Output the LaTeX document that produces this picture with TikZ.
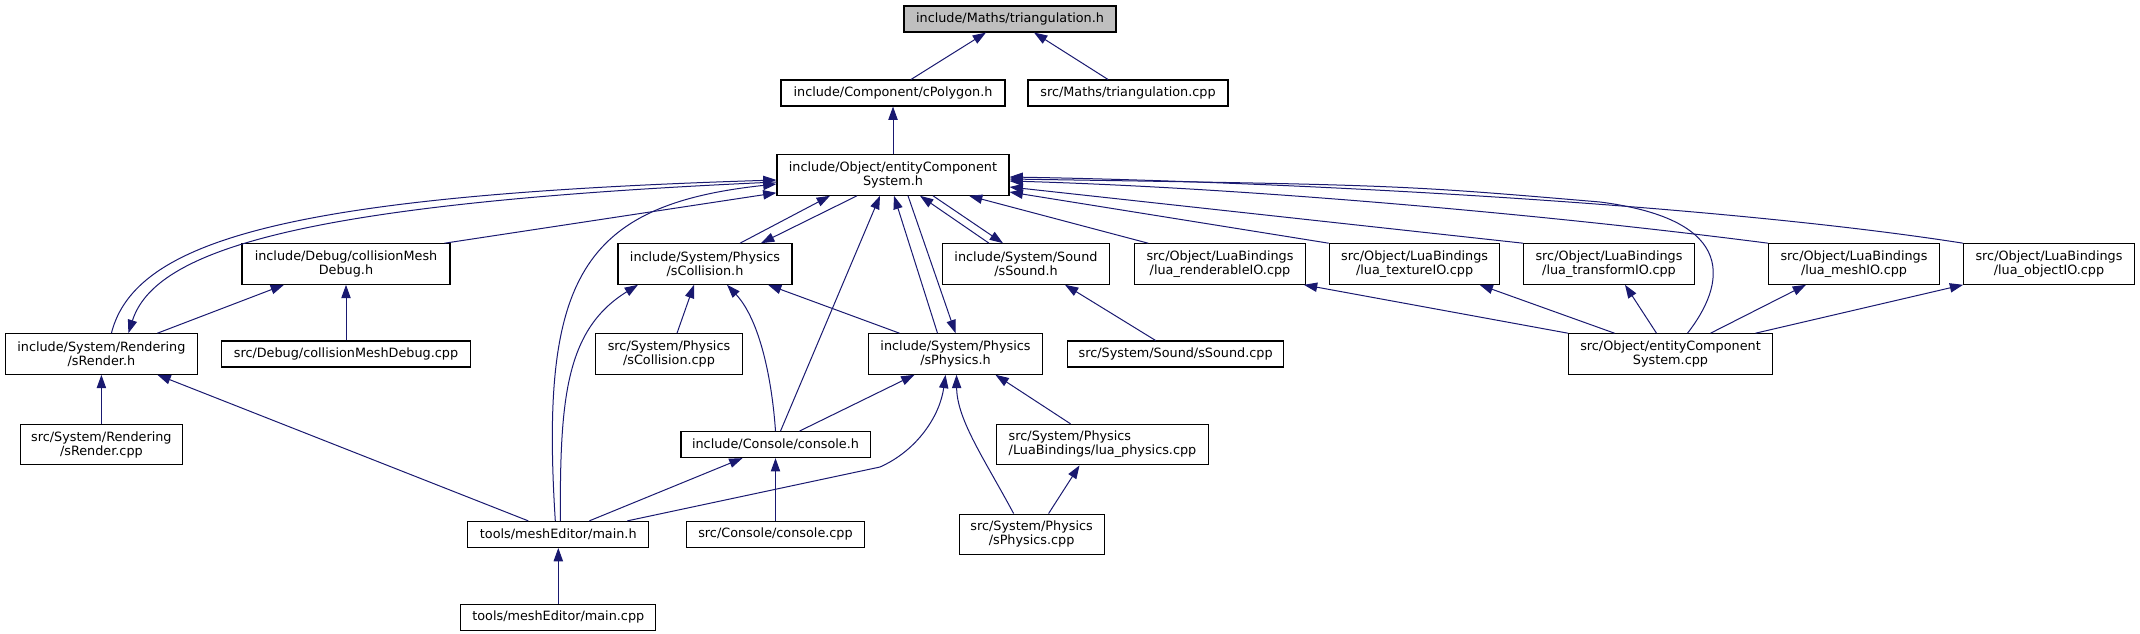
\documentclass[tikz,border=0pt]{standalone}
\usepackage{fontspec}
\setmainfont{DejaVu Sans}
\usepackage{tikz}
\usetikzlibrary{arrows.meta, positioning, calc}
\definecolor{navy1}{RGB}{25, 25, 112}
\definecolor{grey1}{RGB}{191, 191, 191}

\begin{document}
\begin{tikzpicture}[x=0.75pt, y=-0.75pt,
  file/.style={draw=black, line width=0.8pt, fill=white, inner sep=0pt, minimum height=19.5pt, align=center, font=\fontsize{9.6}{10.5}\selectfont},
  file2/.style={file, minimum height=30.4pt},
  dep/.style={navy1, line width=0.75pt, -{Triangle[length=10pt, width=7pt]}}]
  \useasboundingbox (0,0) rectangle (2140,633);

  % files
  \node[file, fill=grey1, minimum width=159pt] (trih) at (1010,19) {include/Maths/triangulation.h};
  \node[file, minimum width=168pt] (cpoly) at (893,93) {include/Component/cPolygon.h};
  \node[file, minimum width=150pt] (tricpp) at (1128,93) {src/Maths/triangulation.cpp};
  \node[file2, minimum width=174pt] (ecsh) at (893,175) {include/Object/entityComponent\\System.h};
  \node[file2, minimum width=156pt] (cmdh) at (346,264) {include/Debug/collisionMesh\\Debug.h};
  \node[file2, minimum width=130.5pt] (scolh) at (705,264) {include/System/Physics\\/sCollision.h};
  \node[file2, minimum width=125.3pt] (ssndh) at (1026,264) {include/System/Sound\\/sSound.h};
  \node[file2, minimum width=128pt] (lrend) at (1220,264) {src/Object/LuaBindings\\/lua\_renderableIO.cpp};
  \node[file2, minimum width=128pt] (ltex) at (1414.6,264) {src/Object/LuaBindings\\/lua\_textureIO.cpp};
  \node[file2, minimum width=128pt] (ltrans) at (1609,264) {src/Object/LuaBindings\\/lua\_transformIO.cpp};
  \node[file2, minimum width=128pt] (lmesh) at (1854,264) {src/Object/LuaBindings\\/lua\_meshIO.cpp};
  \node[file2, minimum width=128pt] (lobj) at (2049,264) {src/Object/LuaBindings\\/lua\_objectIO.cpp};
  \node[file2, minimum width=144pt] (srendh) at (101.4,354) {include/System/Rendering\\/sRender.h};
  \node[file, minimum width=186.5pt] (cmdcpp) at (346,354) {src/Debug/collisionMeshDebug.cpp};
  \node[file2, minimum width=110pt] (scolcpp) at (669,354) {src/System/Physics\\/sCollision.cpp};
  \node[file2, minimum width=130.5pt] (sphyh) at (955.5,354) {include/System/Physics\\/sPhysics.h};
  \node[file, minimum width=162pt] (ssndcpp) at (1175.6,354) {src/System/Sound/sSound.cpp};
  \node[file2, minimum width=153pt] (ecscpp) at (1670.5,354) {src/Object/entityComponent\\System.cpp};
  \node[file2, minimum width=122pt] (srendcpp) at (101.4,444.6) {src/System/Rendering\\/sRender.cpp};
  \node[file, minimum width=141.8pt] (conh) at (775.5,444.6) {include/Console/console.h};
  \node[file2, minimum width=159pt, align=left] (lphys) at (1102.5,444.6) {src/System/Physics\\/LuaBindings/lua\_physics.cpp};
  \node[file, minimum width=135.8pt] (mainh) at (558.3,534.4) {tools/meshEditor/main.h};
  \node[file, minimum width=133.5pt] (concpp) at (775.5,534.4) {src/Console/console.cpp};
  \node[file2, minimum width=108.8pt] (sphycpp) at (1031.6,534.3) {src/System/Physics\\/sPhysics.cpp};
  \node[file, minimum width=146.3pt] (maincpp) at (558.3,617.4) {tools/meshEditor/main.cpp};

  % includes
  \draw[dep] ([shift={(18,0)}]cpoly.north) -- ([shift={(-24,0)}]trih.south);
  \draw[dep] ([shift={(-20,0)}]tricpp.north) -- ([shift={(24,0)}]trih.south);
  \draw[dep] (ecsh.north) -- (cpoly.south);
  \draw[dep] ([shift={(10,0)}]srendh.north) .. controls (135,240) and (290,195) .. ([shift={(0,5)}]ecsh.west);
  \draw[dep] ([shift={(0,7)}]ecsh.west) .. controls (300,203) and (155,250) .. ([shift={(27,0)}]srendh.north);
  \draw[dep] ([shift={(-6,0)}]cmdh.north east) -- ([shift={(0,-3)}]ecsh.south west);
  \draw[dep] ([shift={(56,0)}]srendh.north) -- ([shift={(-62,0)}]cmdh.south);
  \draw[dep] (cmdcpp.north) -- (cmdh.south);
  \draw[dep] (srendcpp.north) -- (srendh.south);
  \draw[dep] ([shift={(-30,0)}]mainh.north) -- ([shift={(56,0)}]srendh.south);
  \draw[dep] (maincpp.north) -- (mainh.south);
  \draw[dep] ([shift={(-3,0)}]mainh.north) .. controls (540,280) and (580,205) .. ([shift={(0,9)}]ecsh.west);
  \draw[dep] ([shift={(2,0)}]mainh.north) .. controls (560,400) and (565,330) .. ([shift={(-67,0)}]scolh.south);
  \draw[dep] ([shift={(31,0)}]mainh.north) -- ([shift={(-33,0)}]conh.south);
  \draw[dep] ([shift={(69,0)}]mainh.north) -- (880,467) .. controls (918,450) and (940,415) .. ([shift={(-10,0)}]sphyh.south);
  \draw[dep] (concpp.north) -- (conh.south);
  \draw[dep] ([shift={(24,0)}]conh.north) -- ([shift={(-41,0)}]sphyh.south);
  \draw[dep] (conh.north) .. controls (772,380) and (760,320) .. ([shift={(22,0)}]scolh.south);
  \draw[dep] ([shift={(5,0)}]conh.north) -- ([shift={(-13,0)}]ecsh.south);
  \draw[dep] ([shift={(8,0)}]scolcpp.north) -- ([shift={(-11,0)}]scolh.south);
  \draw[dep] ([shift={(-56,0)}]sphyh.north) -- ([shift={(63,0)}]scolh.south);
  \draw[dep] ([shift={(35,0)}]scolh.north) -- ([shift={(-63,0)}]ecsh.south);
  \draw[dep] ([shift={(-36,0)}]ecsh.south) -- ([shift={(56,0)}]scolh.north);
  \draw[dep] ([shift={(-37,0)}]ssndh.north) -- ([shift={(27,0)}]ecsh.south);
  \draw[dep] ([shift={(40,0)}]ecsh.south) -- ([shift={(-23,0)}]ssndh.north);
  \draw[dep] ([shift={(-20,0)}]ssndcpp.north) -- ([shift={(39,0)}]ssndh.south);
  \draw[dep] ([shift={(-18,0)}]sphyh.north) -- ([shift={(1,0)}]ecsh.south);
  \draw[dep] ([shift={(15,0)}]ecsh.south) -- (sphyh.north);
  \draw[dep] ([shift={(14,0)}]lrend.north west) -- ([shift={(76,0)}]ecsh.south);
  \draw[dep] (ltex.north west) -- ([shift={(0,17)}]ecsh.east);
  \draw[dep] (ltrans.north west) -- ([shift={(0,12)}]ecsh.east);
  \draw[dep] (lmesh.north west) .. controls (1550,215) and (1250,188) .. ([shift={(0,6)}]ecsh.east);
  \draw[dep] (lobj.north west) .. controls (1720,205) and (1300,182) .. ([shift={(0,2)}]ecsh.east);
  \draw[dep] ([shift={(17,0)}]ecscpp.north) .. controls (1725,285) and (1740,220) .. (1600,202) .. controls (1400,185) .. ([shift={(0,4)}]ecsh.east);
  \draw[dep] (ecscpp.north west) -- ([shift={(-2,0)}]lrend.south east);
  \draw[dep] ([shift={(-56,0)}]ecscpp.north) -- ([shift={(65,0)}]ltex.south);
  \draw[dep] ([shift={(-14,0)}]ecscpp.north) -- ([shift={(16,0)}]ltrans.south);
  \draw[dep] ([shift={(40,0)}]ecscpp.north) -- ([shift={(-48,0)}]lmesh.south);
  \draw[dep] ([shift={(85,0)}]ecscpp.north) -- (lobj.south west);
  \draw[dep] ([shift={(-32,0)}]lphys.north) -- ([shift={(40,0)}]sphyh.south);
  \draw[dep] ([shift={(17,0)}]sphycpp.north) -- ([shift={(-23,0)}]lphys.south);
  \draw[dep] ([shift={(-18,0)}]sphycpp.north) .. controls (985,460) and (957,420) .. ([shift={(1,0)}]sphyh.south);
\end{tikzpicture}
\end{document}
